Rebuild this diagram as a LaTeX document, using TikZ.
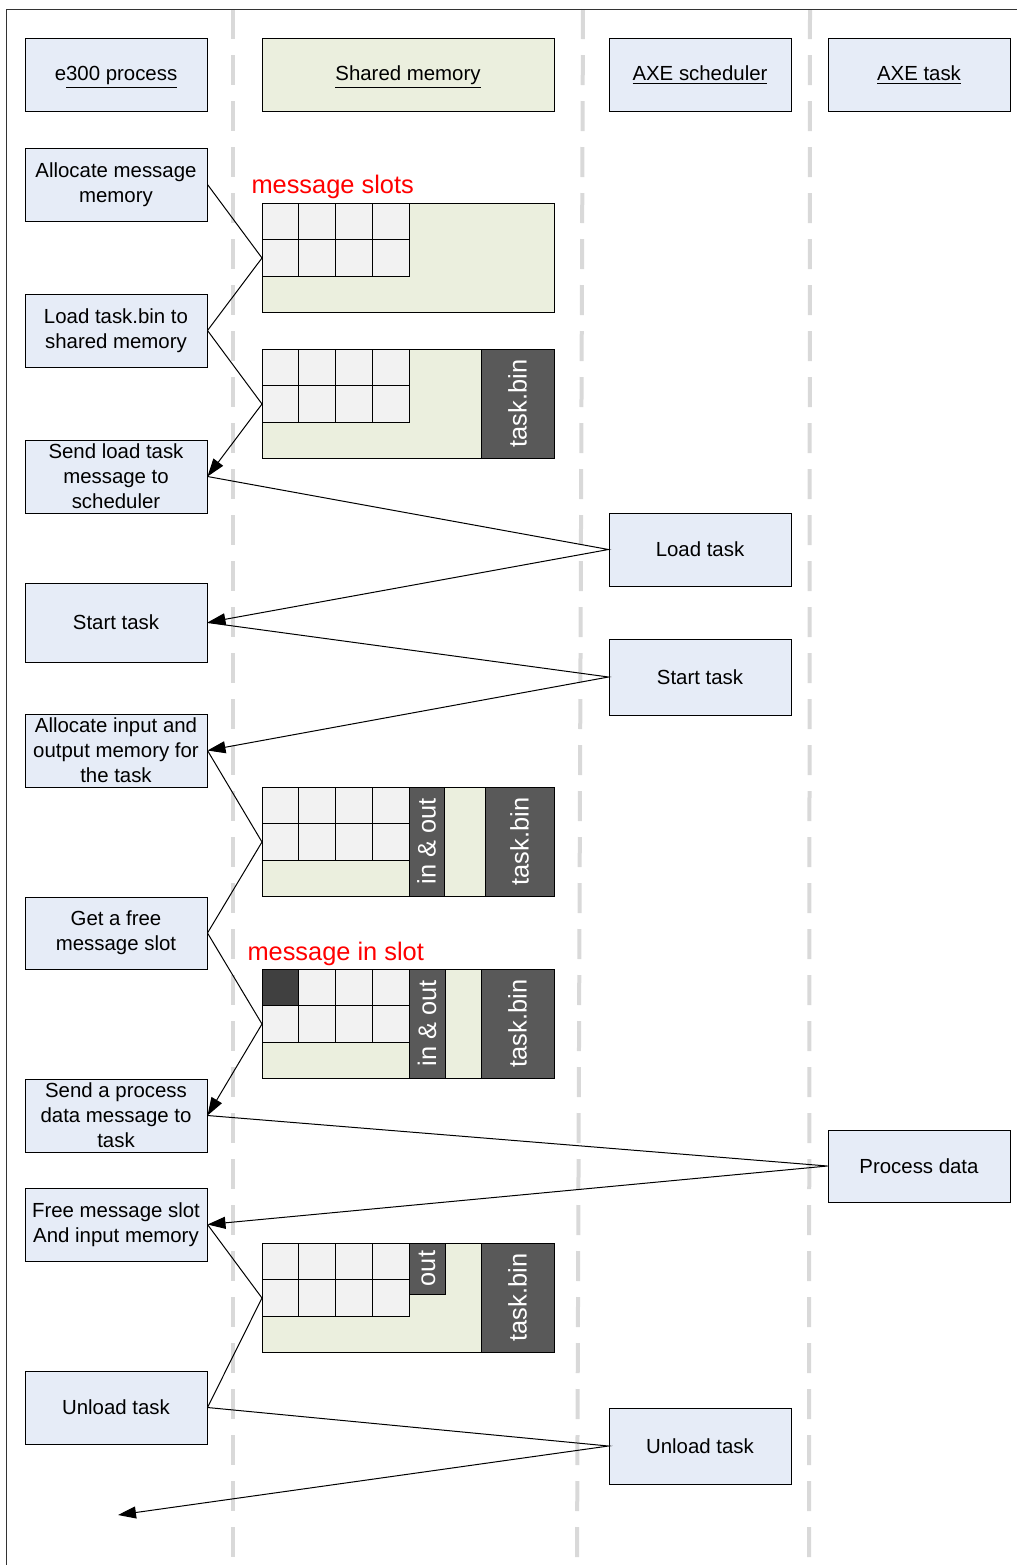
\documentclass[tikz,border=0pt]{standalone}
\usepackage{fontspec}
\setmainfont{Liberation Sans}
\usetikzlibrary{arrows.meta}
\definecolor{procblue}{RGB}{230,236,247}
\definecolor{memgreen}{RGB}{235,239,222}
\definecolor{cellgray}{RGB}{242,242,242}
\definecolor{bingray}{RGB}{89,89,89}
\definecolor{slotdark}{RGB}{64,64,64}
\definecolor{lanegray}{RGB}{217,217,217}

\begin{document}
\begin{tikzpicture}[x=0.5pt,y=-0.5pt,line width=0.5pt,>={Triangle[length=9pt,width=6pt]},
  box/.style={draw,fill=procblue,minimum width=91pt,minimum height=36.5pt,inner sep=1pt,
    align=center,font=\fontsize{10.2}{12.5}\selectfont},
  head/.style={box,text height=7.5pt,text depth=1.7pt},
  mem/.style={draw,fill=memgreen,minimum width=146pt,minimum height=54.5pt,inner sep=0pt,anchor=north west},
  cell/.style={draw,fill=cellgray},
  binblk/.style={draw,fill=bingray,text=white,rotate=90,inner sep=0pt,minimum width=54.5pt,
    font=\fontsize{12.7}{14}\selectfont},
  note/.style={text=red,anchor=base west,inner sep=0pt,font=\fontsize{12.7}{14}\selectfont},
  lane/.style={lanegray,line width=2pt,dash pattern=on 15pt off 8pt}]
% message slot grid: \msgslots{top y}
\newcommand{\msgslots}[1]{
  \foreach \i in {0,...,3} \foreach \j in {0,1}
    \draw[cell] (262+36.75*\i,#1+36.5*\j) rectangle ++(36.75,36.5);}
\useasboundingbox (0,0) rectangle (1017,1565);
% ---------- frame and swim lanes ----------
\draw[lane] (233,9) -- (233,1565);
\draw[lane] (583,9) -- (577,1565);
\draw[lane] (810,9) -- (809,1565);
\draw[black!80] (1017,9) -- (6,9) -- (6,1565);
% ---------- headers ----------
\node[head] (hproc) at (116,75) {e\underline{300 process}};
\node[head,fill=memgreen,minimum width=146pt] (hmem) at (408,75) {\underline{Shared memory}};
\node[head] (hsched) at (700,75) {\underline{AXE scheduler}};
\node[head] (htask) at (919,75) {\underline{AXE task}};
% ---------- e300 process ----------
\node[box] (alloc) at (116,184.5) {Allocate message\\memory};
\node[box] (loadbin) at (116,330.5) {Load task.bin to\\shared memory};
\node[box] (sendload) at (116,476.5) {Send load task\\message to\\scheduler};
\node[box,minimum height=39.5pt] (start) at (116,622.5) {Start task};
\node[box] (allocio) at (116,750.5) {Allocate input and\\output memory for\\the task};
\node[box,minimum height=36pt] (getslot) at (116,933) {Get a free\\message slot};
\node[box] (sendproc) at (116,1115.5) {Send a process\\data message to\\task};
\node[box] (freeslot) at (116,1224.5) {Free message slot\\And input memory};
\node[box] (unload) at (116,1407.5) {Unload task};
\coordinate (unloaddone) at (118,1515);
% ---------- AXE scheduler / AXE task ----------
\node[box] (schedload) at (700,549.5) {Load task};
\node[box,minimum height=38pt] (schedstart) at (700,677) {Start task};
\node[box,minimum height=38pt] (schedunload) at (700,1446) {Unload task};
\node[box,minimum height=36pt] (procdata) at (919,1166) {Process data};
% ---------- shared memory ----------
\node[note] (lblslots) at (251,193) {message slots};
\node[mem] (memA) at (262,203) {};
\msgslots{203}
\node[mem] (memB) at (262,349) {};
\msgslots{349}
\node[binblk,minimum height=36.5pt] (binB) at (517.5,403.5) {task.bin};
\node[mem] (memC) at (262,787) {};
\msgslots{787}
\node[binblk,minimum height=17.5pt] (ioC) at (426.5,841.5) {in \& out};
\node[binblk,minimum height=34.5pt] (binC) at (519.5,841.5) {task.bin};
\node[note] (lblmsg) at (247,960) {message in slot};
\node[mem] (memD) at (262,969) {};
\msgslots{969}
\draw[cell,fill=slotdark] (262,969) rectangle ++(36.75,36.5);
\node[binblk,minimum height=18pt] (ioD) at (427,1023.5) {in \& out};
\node[binblk,minimum height=36.5pt] (binD) at (517.5,1023.5) {task.bin};
\node[mem] (memE) at (262,1243) {};
\msgslots{1243}
\node[binblk,minimum width=25.5pt,minimum height=18pt] (outE) at (427,1268.5) {out};
\node[binblk,minimum height=36.5pt] (binE) at (517.5,1297.5) {task.bin};
% ---------- messages ----------
\draw (alloc.east) -- (memA.west) -- (loadbin.east);
\draw[->] (loadbin.east) -- (memB.west) -- (sendload.east);
\draw[->] (sendload.east) -- (schedload.west) -- (start.east);
\draw[->] (start.east) -- (schedstart.west) -- (allocio.east);
\draw (allocio.east) -- (memC.west) -- (getslot.east);
\draw[->] (getslot.east) -- (memD.west) -- (sendproc.east);
\draw[->] (sendproc.east) -- (procdata.west) -- (freeslot.east);
\draw (freeslot.east) -- (memE.west) -- (unload.east);
\draw[->] (unload.east) -- (schedunload.west) -- (unloaddone);
\end{tikzpicture}
\end{document}
